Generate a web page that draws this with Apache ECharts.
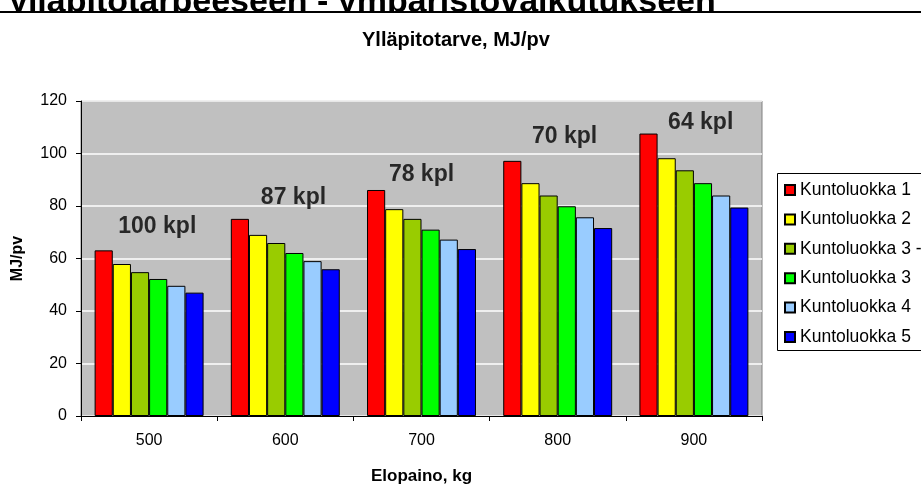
<!DOCTYPE html>
<html>
<head>
<meta charset="utf-8">
<script src="https://cdn.jsdelivr.net/npm/echarts@6/dist/echarts.min.js"></script>
<style>
html,body{margin:0;padding:0;background:#fff;}
#chart{width:921px;height:490px;}
</style>
</head>
<body>
<div id="chart"></div>
<script>
const categories = ['500', '600', '700', '800', '900'];
const seriesNames = ['Kuntoluokka 1', 'Kuntoluokka 2', 'Kuntoluokka 3 -', 'Kuntoluokka 3', 'Kuntoluokka 4', 'Kuntoluokka 5'];
const kunto1 = [63.1, 75.1, 86.1, 97.2, 107.6];
const kunto2 = [57.9, 69.0, 78.8, 88.7, 98.2];
const kunto3m = [54.8, 65.9, 75.1, 84.0, 93.6];
const kunto3 = [52.2, 62.1, 71.0, 79.9, 88.7];
const kunto4 = [49.6, 59.0, 67.2, 75.7, 84.0];
const kunto5 = [47.0, 55.9, 63.6, 71.6, 79.4];
const colors = ['#FF0000', '#FFFF00', '#99CC00', '#00FF00', '#99CCFF', '#0000FF'];
const yTicks = [0, 20, 40, 60, 80, 100, 120];
const countLabels = ['100 kpl', '87 kpl', '78 kpl', '70 kpl', '64 kpl'];
const countLabelX = [506, 606, 700, 805, 905];
const countLabelY = [72.2, 83.3, 91.9, 106.3, 111.7];

const values = [kunto1, kunto2, kunto3m, kunto3, kunto4, kunto5];
const FONT = "'Liberation Sans', Arial, sans-serif";

const chart = echarts.init(document.getElementById('chart'), null, {renderer: 'canvas'});

const barSeries = seriesNames.map((name, i) => ({
  name: name,
  type: 'bar',
  xAxisIndex: 0,
  yAxisIndex: 0,
  data: values[i],
  barGap: '0%',
  barCategoryGap: '20%',
  itemStyle: {color: colors[i], borderColor: '#000', borderWidth: 1},
  emphasis: {disabled: true},
  animation: false
}));

const labelSeries = {
  type: 'scatter',
  name: 'labels',
  xAxisIndex: 1,
  yAxisIndex: 0,
  symbolSize: 0,
  silent: true,
  animation: false,
  data: countLabels.map((t, i) => ({name: t, value: [countLabelX[i], countLabelY[i]]})),
  label: {
    show: true,
    position: 'inside',
    formatter: p => p.name,
    fontFamily: FONT,
    fontWeight: 'bold',
    fontSize: 23,
    color: '#000'
  }
};

chart.setOption({
  animation: false,
  backgroundColor: '#fff',
  textStyle: {fontFamily: FONT},
  title: {
    text: 'Ylläpitotarve, MJ/pv',
    left: 362,
    top: 30,
    padding: 0,
    textStyle: {fontFamily: FONT, fontWeight: 'bold', fontSize: 20, color: '#000'}
  },
  graphic: [
    {
      type: 'text', left: 9, top: -14, z: 10,
      style: {text: 'ylläpitotarpeeseen - ympäristövaikutukseen', font: "bold 34px 'Liberation Sans', Arial, sans-serif", fill: '#000'}
    },
    {
      type: 'rect', left: 0, top: 13, z: 11,
      shape: {width: 921, height: 10},
      style: {fill: '#fff'}
    },
    {
      type: 'rect', left: 0, top: 11, z: 12,
      shape: {width: 921, height: 2},
      style: {fill: '#000'}
    },
    {
      type: 'rect', left: 777, top: 173, z: 0,
      shape: {width: 200, height: 177},
      style: {fill: '#fff', stroke: '#000', lineWidth: 1}
    }
  ],
  legend: {
    data: seriesNames,
    orient: 'vertical',
    left: 777,
    top: 174,
    padding: [7, 7, 7, 7],
    itemGap: 11.4,
    itemWidth: 10,
    itemHeight: 10,
    icon: 'rect',
    selectedMode: false,
    z: 5,
    textStyle: {fontFamily: FONT, fontSize: 17.5, color: '#000'}
  },
  grid: {
    left: 81, right: 159, top: 101, bottom: 67,
    show: true,
    backgroundColor: '#C0C0C0',
    borderColor: '#808080',
    borderWidth: 1
  },
  xAxis: [
    {
      type: 'category',
      data: categories,
      boundaryGap: true,
      axisLine: {lineStyle: {color: '#000', width: 1}},
      axisTick: {show: true, length: 5, lineStyle: {color: '#000'}},
      axisLabel: {fontFamily: FONT, fontSize: 16, color: '#000', margin: 17},
      name: 'Elopaino, kg',
      nameLocation: 'middle',
      nameGap: 52,
      nameTextStyle: {fontFamily: FONT, fontWeight: 'bold', fontSize: 17, color: '#000'}
    },
    {
      type: 'value',
      min: 450,
      max: 950,
      show: false
    }
  ],
  yAxis: {
    type: 'value',
    min: yTicks[0],
    max: yTicks[yTicks.length - 1],
    interval: 20,
    axisLine: {show: true, lineStyle: {color: '#000', width: 1}},
    axisTick: {show: true, length: 5, lineStyle: {color: '#000'}},
    axisLabel: {fontFamily: FONT, fontSize: 16, color: '#000', margin: 14},
    splitLine: {show: true, lineStyle: {color: '#FFFFFF', width: 1.5}},
    name: 'MJ/pv',
    nameLocation: 'middle',
    nameGap: 55,
    nameRotate: 90,
    nameTextStyle: {fontFamily: FONT, fontWeight: 'bold', fontSize: 16, color: '#000'}
  },
  series: barSeries.concat([labelSeries])
});
</script>
</body>
</html>
